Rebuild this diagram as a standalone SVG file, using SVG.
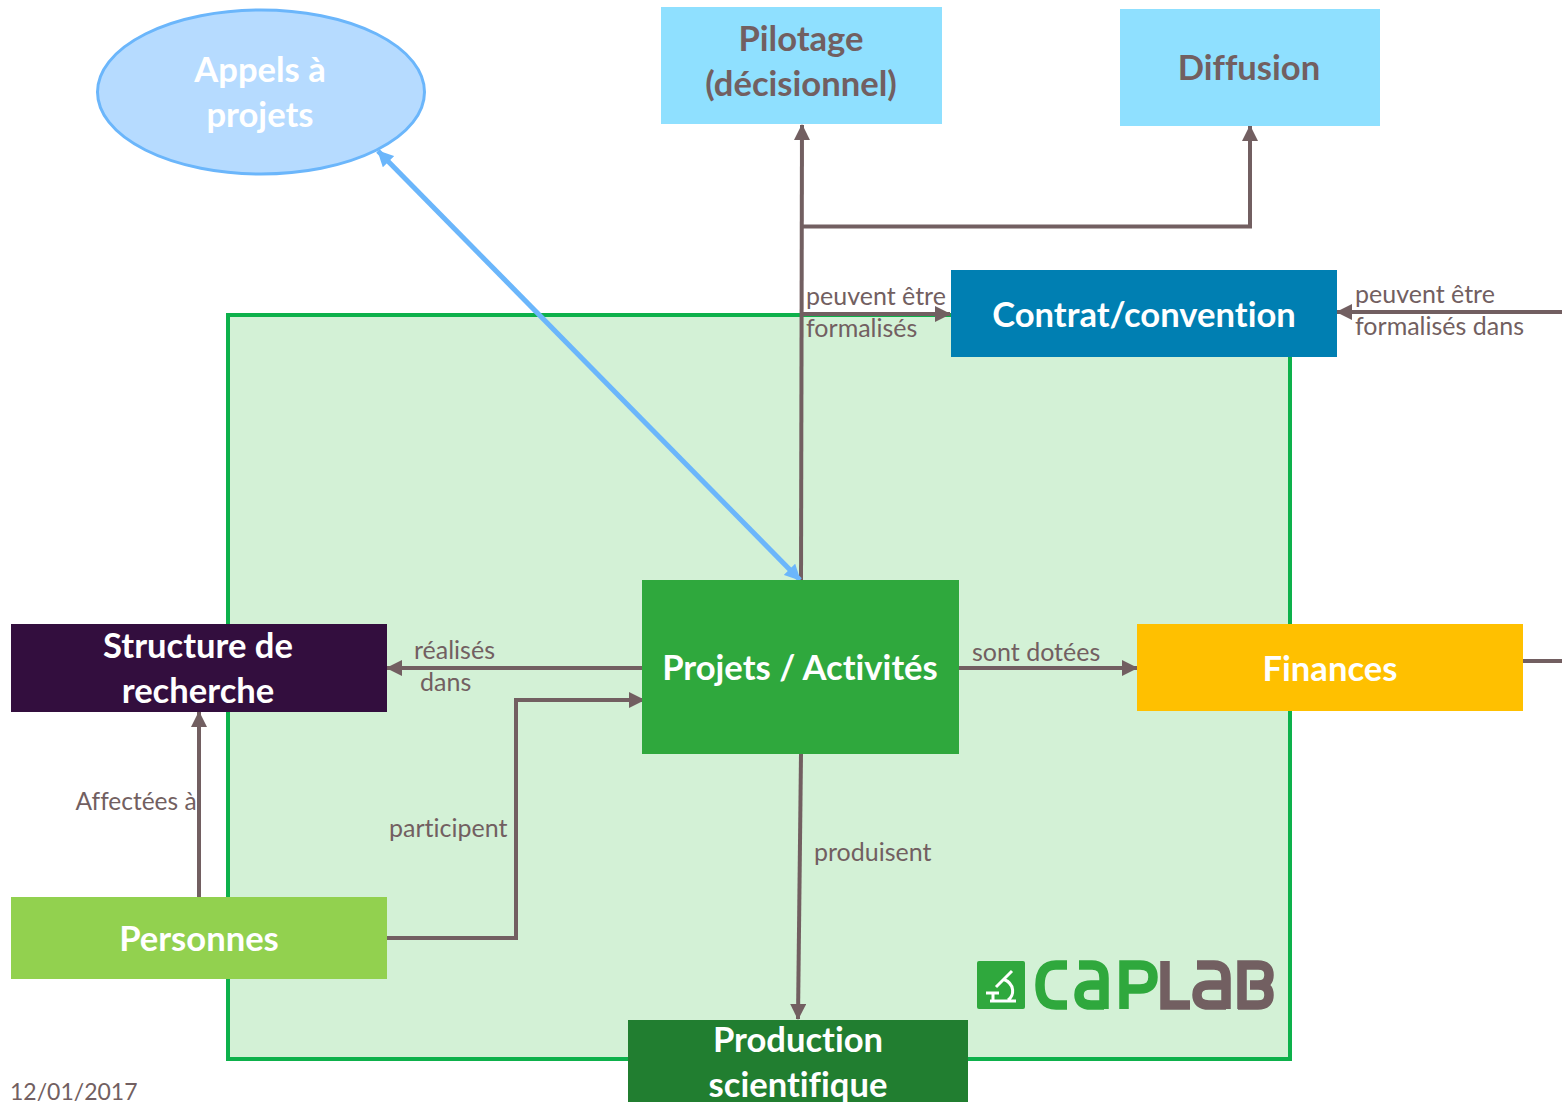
<svg xmlns="http://www.w3.org/2000/svg" width="1562" height="1102" viewBox="0 0 1562 1102">
<style>
.n{font:700 34.600px Lato,"Open Sans",sans-serif;font-variant-ligatures:none;text-anchor:middle;fill:#fff}
.n.g{fill:#725f61}
.l{font:25px Lato,"Open Sans",sans-serif;font-variant-ligatures:none;fill:#725f61}
.c{fill:none;stroke:#725f61;stroke-width:4}
.w{fill:none;stroke:#fff;stroke-width:3}
.lg{fill:none;stroke-width:9.500;stroke:#2fa83d}
.lb{fill:none;stroke-width:9.500;stroke:#725f61}
</style>
<defs>
<marker id="a" markerUnits="userSpaceOnUse" markerWidth="16" markerHeight="16" refX="15" refY="8" orient="auto-start-reverse"><path d="M0 0L16 8L0 16Z" fill="#725f61"/></marker>
<marker id="b" markerUnits="userSpaceOnUse" markerWidth="16" markerHeight="16" refX="15" refY="8" orient="auto-start-reverse"><path d="M0 0L16 8L0 16Z" fill="#6bb6fb"/></marker>
</defs>
<rect x="228" y="315" width="1062" height="744" fill="#d3f1d6" stroke="#0db14b" stroke-width="4"/>
<g id="connectors">
<path class="c" d="M801 580L802 125" marker-end="url(#a)"/>
<path class="c" d="M801 226.500H1250V126" marker-end="url(#a)"/>
<path class="c" d="M801 314H950" marker-end="url(#a)"/>
<path class="c" d="M1562 312H1337" marker-end="url(#a)"/>
<path class="c" d="M642 668H387" marker-end="url(#a)"/>
<path class="c" d="M959 668H1137" marker-end="url(#a)"/>
<path class="c" d="M1520 661H1562"/>
<path class="c" d="M199 897V712" marker-end="url(#a)"/>
<path class="c" d="M387 938H516V700H644" marker-end="url(#a)"/>
<path class="c" d="M801 754L798 1019" marker-end="url(#a)"/>
<path d="M378 151L800 580" fill="none" stroke="#6bb6fb" stroke-width="5" marker-start="url(#b)" marker-end="url(#b)"/>
</g>
<g id="appels"><ellipse cx="261" cy="92" rx="163.500" ry="82" fill="#b6dbff" stroke="#6bb6fb" stroke-width="3"/><text class="n" x="260" y="82">Appels à</text><text class="n" x="260" y="127">projets</text></g>
<g id="pilotage"><rect x="661" y="7" width="281" height="117" fill="#8fe0ff"/><text class="n g" x="801" y="51">Pilotage</text><text class="n g" x="801" y="96">(décisionnel)</text></g>
<g id="diffusion"><rect x="1120" y="9" width="260" height="117" fill="#8fe0ff"/><text class="n g" x="1249" y="80">Diffusion</text></g>
<g id="contrat"><rect x="951" y="270" width="386" height="87" fill="#007fb2"/><text class="n" x="1144" y="327">Contrat/convention</text></g>
<g id="structure"><rect x="11" y="624" width="376" height="88" fill="#330e3e"/><text class="n" x="198" y="658">Structure de</text><text class="n" x="198" y="703">recherche</text></g>
<g id="projets"><rect x="642" y="580" width="317" height="174" fill="#2fa83d"/><text class="n" x="800" y="680">Projets / Activités</text></g>
<g id="finances"><rect x="1137" y="624" width="386" height="87" fill="#ffc000"/><text class="n" x="1330" y="681">Finances</text></g>
<g id="personnes"><rect x="11" y="897" width="376" height="82" fill="#92d14f"/><text class="n" x="199" y="951">Personnes</text></g>
<g id="production"><rect x="628" y="1020" width="340" height="82" fill="#217e30"/><text class="n" x="798" y="1052">Production</text><text class="n" x="798" y="1097">scientifique</text></g>
<g id="labels">
<text class="l" x="806" y="305">peuvent être</text><text class="l" x="806" y="337">formalisés</text>
<text class="l" x="1355" y="303">peuvent être</text><text class="l" x="1355" y="335">formalisés dans</text>
<text class="l" x="414" y="659">réalisés</text><text class="l" x="420" y="691">dans</text>
<text class="l" x="972" y="661">sont dotées</text>
<text class="l" x="75.500" y="810" style="font-size:24.500px">Affectées à</text>
<text class="l" x="389" y="837">participent</text>
<text class="l" x="814" y="861">produisent</text>
<text class="l" x="10" y="1100" style="font-size:23px">12/01/2017</text>
</g>
<g id="logo">
<rect x="977" y="961" width="48" height="48" rx="2" fill="#2fa83d"/>
<path class="w" d="M990 1001H1016M986 993H999M993 993V1001M1012 971L996 987M1003 979C1016 984 1014 996 1008 1000"/>
<path class="lg" d="M1067 965H1056Q1040 965 1040 985Q1040 1005 1056 1005H1067"/>
<path class="lg" d="M1079 965H1092Q1104 965 1104 978V1009M1104 985H1091Q1079 985 1079 995Q1079 1005 1091 1005H1104"/>
<path class="lg" d="M1124 1009V965H1140Q1153 965 1153 977Q1153 989 1140 989H1124"/>
<path class="lb" d="M1165 961V1005H1190"/>
<path class="lb" d="M1197 965H1214Q1226 965 1226 978V1009M1226 985H1209Q1197 985 1197 995Q1197 1005 1209 1005H1226"/>
<path class="lb" d="M1242 1009V965H1258Q1269 965 1269 975Q1269 985 1258 985H1250H1258Q1269 985 1269 995Q1269 1005 1258 1005H1238"/>
</g>
</svg>
